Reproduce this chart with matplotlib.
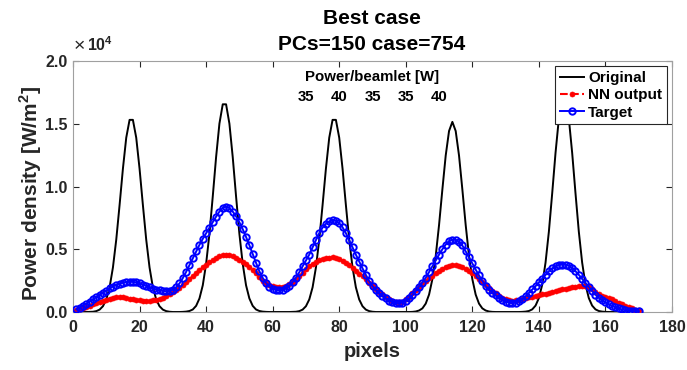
import matplotlib
matplotlib.use("Agg")
import matplotlib.pyplot as plt
import numpy as np

plt.rcParams['font.family'] = ['Liberation Sans', 'DejaVu Sans']
plt.rcParams['mathtext.fontset'] = 'custom'
plt.rcParams['mathtext.rm'] = 'Liberation Sans'
plt.rcParams['mathtext.bf'] = 'Liberation Sans:bold'

# ---------------- data (power density in units of 1e4 W/m^2) ----------------
pixels = list(range(1, 171))

original = [
    0.000, 0.000, 0.000, 0.000, 0.001, 0.002, 0.007, 0.019, 0.046, 0.100,  # 1-10
    0.197, 0.355, 0.577, 0.853, 1.142, 1.389, 1.531, 1.531, 1.389, 1.142,  # 11-20
    0.853, 0.577, 0.355, 0.197, 0.100, 0.046, 0.019, 0.007, 0.002, 0.000,  # 21-30
    0.000, 0.000, 0.001, 0.003, 0.008, 0.020, 0.049, 0.108, 0.213, 0.384,  # 31-40
    0.623, 0.921, 1.234, 1.501, 1.655, 1.655, 1.501, 1.234, 0.921, 0.623,  # 41-50
    0.384, 0.213, 0.108, 0.049, 0.020, 0.008, 0.003, 0.001, 0.000, 0.000,  # 51-60
    0.000, 0.000, 0.000, 0.000, 0.000, 0.001, 0.002, 0.007, 0.019, 0.046,  # 61-70
    0.100, 0.197, 0.355, 0.577, 0.853, 1.142, 1.389, 1.531, 1.531, 1.389,  # 71-80
    1.142, 0.853, 0.577, 0.355, 0.197, 0.100, 0.046, 0.019, 0.007, 0.002,  # 81-90
    0.000, 0.000, 0.000, 0.000, 0.000, 0.000, 0.000, 0.000, 0.000, 0.000,  # 91-100
    0.000, 0.001, 0.004, 0.012, 0.029, 0.067, 0.139, 0.262, 0.447, 0.694,  # 101-110
    0.977, 1.247, 1.442, 1.515, 1.442, 1.247, 0.977, 0.694, 0.447, 0.262,  # 111-120
    0.139, 0.067, 0.029, 0.012, 0.004, 0.001, 0.000, 0.000, 0.000, 0.000,  # 121-130
    0.000, 0.000, 0.000, 0.000, 0.001, 0.003, 0.008, 0.021, 0.051, 0.111,  # 131-140
    0.218, 0.394, 0.640, 0.946, 1.268, 1.541, 1.699, 1.699, 1.541, 1.268,  # 141-150
    0.946, 0.640, 0.394, 0.218, 0.111, 0.051, 0.021, 0.008, 0.003, 0.001,  # 151-160
    0.000, 0.000, 0.000, 0.000, 0.000, 0.000, 0.000, 0.000, 0.000, 0.000,  # 161-170
]

nn_output = [
    0.013, 0.022, 0.032, 0.041, 0.051, 0.060, 0.070, 0.080, 0.090, 0.099,
    0.107, 0.114, 0.119, 0.120, 0.117, 0.112, 0.106, 0.101, 0.097, 0.093,
    0.091, 0.090, 0.090, 0.093, 0.099, 0.106, 0.115, 0.127, 0.141, 0.156,
    0.172, 0.194, 0.218, 0.241, 0.263, 0.285, 0.308, 0.332, 0.356, 0.378,
    0.397, 0.415, 0.431, 0.444, 0.452, 0.455, 0.452, 0.445, 0.434, 0.418,
    0.400, 0.381, 0.360, 0.338, 0.308, 0.277, 0.250, 0.230, 0.215, 0.205,
    0.199, 0.198, 0.202, 0.211, 0.225, 0.242, 0.261, 0.286, 0.313, 0.340,
    0.364, 0.384, 0.400, 0.413, 0.422, 0.428, 0.434, 0.436, 0.432, 0.424,
    0.410, 0.393, 0.373, 0.351, 0.329, 0.306, 0.283, 0.259, 0.234, 0.210,
    0.186, 0.162, 0.140, 0.120, 0.102, 0.088, 0.079, 0.076, 0.083, 0.100,
    0.123, 0.148, 0.172, 0.198, 0.222, 0.246, 0.268, 0.290, 0.310, 0.328,
    0.345, 0.360, 0.370, 0.375, 0.374, 0.368, 0.357, 0.343, 0.328, 0.311,
    0.289, 0.266, 0.242, 0.219, 0.195, 0.171, 0.148, 0.127, 0.112, 0.101,
    0.094, 0.091, 0.093, 0.098, 0.105, 0.112, 0.118, 0.123, 0.127, 0.133,
    0.140, 0.147, 0.154, 0.161, 0.168, 0.175, 0.181, 0.186, 0.192, 0.198,
    0.203, 0.207, 0.209, 0.206, 0.196, 0.180, 0.160, 0.143, 0.130, 0.120,
    0.110, 0.100, 0.088, 0.075, 0.062, 0.048, 0.038, 0.028, 0.019, 0.013,
]

target = [
    0.020, 0.035, 0.050, 0.066, 0.083, 0.100, 0.118, 0.136, 0.154, 0.171,
    0.188, 0.203, 0.216, 0.226, 0.233, 0.238, 0.240, 0.240, 0.236, 0.229,
    0.219, 0.207, 0.196, 0.186, 0.178, 0.172, 0.168, 0.166, 0.168, 0.178,
    0.197, 0.228, 0.270, 0.320, 0.374, 0.430, 0.484, 0.535, 0.583, 0.628,
    0.672, 0.716, 0.760, 0.800, 0.830, 0.840, 0.828, 0.800, 0.762, 0.715,
    0.660, 0.598, 0.532, 0.462, 0.392, 0.325, 0.272, 0.232, 0.203, 0.185,
    0.175, 0.172, 0.176, 0.188, 0.208, 0.237, 0.272, 0.317, 0.364, 0.411,
    0.457, 0.515, 0.573, 0.628, 0.672, 0.703, 0.722, 0.730, 0.726, 0.708,
    0.675, 0.628, 0.572, 0.515, 0.457, 0.402, 0.348, 0.296, 0.246, 0.208,
    0.175, 0.148, 0.127, 0.108, 0.090, 0.078, 0.071, 0.070, 0.075, 0.088,
    0.108, 0.135, 0.168, 0.200, 0.235, 0.272, 0.318, 0.364, 0.411, 0.457,
    0.500, 0.537, 0.563, 0.576, 0.575, 0.560, 0.530, 0.483, 0.436, 0.387,
    0.338, 0.292, 0.248, 0.206, 0.178, 0.154, 0.132, 0.113, 0.096, 0.083,
    0.074, 0.071, 0.075, 0.085, 0.100, 0.125, 0.152, 0.180, 0.206, 0.236,
    0.266, 0.296, 0.325, 0.348, 0.364, 0.374, 0.378, 0.377, 0.368, 0.350,
    0.325, 0.296, 0.264, 0.232, 0.200, 0.168, 0.139, 0.113, 0.093, 0.076,
    0.061, 0.048, 0.037, 0.028, 0.020, 0.014, 0.010, 0.007, 0.005, 0.004,
]

beam_powers = ['35', '40', '35', '35', '40']
beam_label_x = [70, 80, 90, 100, 110]

xticks = [0, 20, 40, 60, 80, 100, 120, 140, 160, 180]
yticks = [0.0, 0.5, 1.0, 1.5, 2.0]
ytick_labels = ['0.0', '0.5', '1.0', '1.5', '2.0']

title_lines = ['Best case', 'PCs=150 case=754']

# ---------------- figure ----------------
W, H = 687, 370
fig = plt.figure(figsize=(W / 100, H / 100), dpi=100)
ax = fig.add_axes([73 / W, 1 - 312 / H, (672 - 73) / W, (312 - 61) / H])

gray = '#262626'

ax.plot(pixels, original, color='black', lw=1.4, label='Original', zorder=2)
ax.plot(pixels, nn_output, color='red', ls='--', lw=1.5, marker='o',
        markersize=3.6, markerfacecolor='red', markeredgecolor='red',
        markeredgewidth=0.5, label='NN output', zorder=3)
ax.plot(pixels, target, color='blue', ls='-', lw=1.4, marker='o',
        markersize=4.6, markerfacecolor='none', markeredgecolor='blue',
        markeredgewidth=1.4, label='Target', zorder=4)

ax.set_xlim(0, 180)
ax.set_ylim(0, 2.0)
ax.set_xticks(xticks)
ax.set_yticks(yticks)
ax.set_yticklabels(ytick_labels)

ax.tick_params(direction='in', length=4, width=0.8, top=True, right=True,
               colors=gray, labelsize=11.5)
ax.tick_params(axis='x', pad=6)
ax.tick_params(axis='y', pad=4)
for lbl in ax.get_xticklabels() + ax.get_yticklabels():
    lbl.set_fontweight('bold')
for sp in ax.spines.values():
    sp.set_color('#a0a0a0')
    sp.set_linewidth(0.8)

ax.set_xlabel('pixels', fontsize=14.5, fontweight='bold', color=gray)
ax.xaxis.set_label_coords(0.5, -(342 - 312) / (312 - 61), transform=ax.transAxes)
ax.set_ylabel('Power density [W/m$^\\mathbf{2}$]', fontsize=15,
              fontweight='bold', color=gray)
ax.yaxis.set_label_coords(-(73 - 44) / (672 - 73), (312 - 193) / (312 - 61),
                          transform=ax.transAxes)

fig.text(372 / W, 1 - 18 / H, title_lines[0], ha='center', va='center',
         fontsize=15, fontweight='bold', color='black')
fig.text(372 / W, 1 - 44 / H, title_lines[1], ha='center', va='center',
         fontsize=15, fontweight='bold', color='black')

fig.text(74 / W, 1 - 47 / H, '×', ha='left', va='center', fontsize=14,
         color=gray)
fig.text(87 / W, 1 - 45 / H, r'$\mathbf{10^{4}}$', ha='left', va='center',
         fontsize=11.5, color=gray)

ax.text(90, 1.87, 'Power/beamlet [W]', ha='center', va='center',
        fontsize=10.8, fontweight='bold', color='black')
for xv, p in zip(beam_label_x, beam_powers):
    ax.text(xv, 1.71, p, ha='center', va='center', fontsize=10.8,
            fontweight='bold', color='black')

leg = ax.legend(loc='upper right', prop={'weight': 'bold', 'size': 11},
                frameon=True, fancybox=False, edgecolor=gray, framealpha=1,
                handlelength=1.6, handletextpad=0.25, borderpad=0.3,
                labelspacing=0.22, borderaxespad=0.35)
leg.get_frame().set_linewidth(0.8)

fig.savefig('out.png', dpi=100, facecolor='white')
